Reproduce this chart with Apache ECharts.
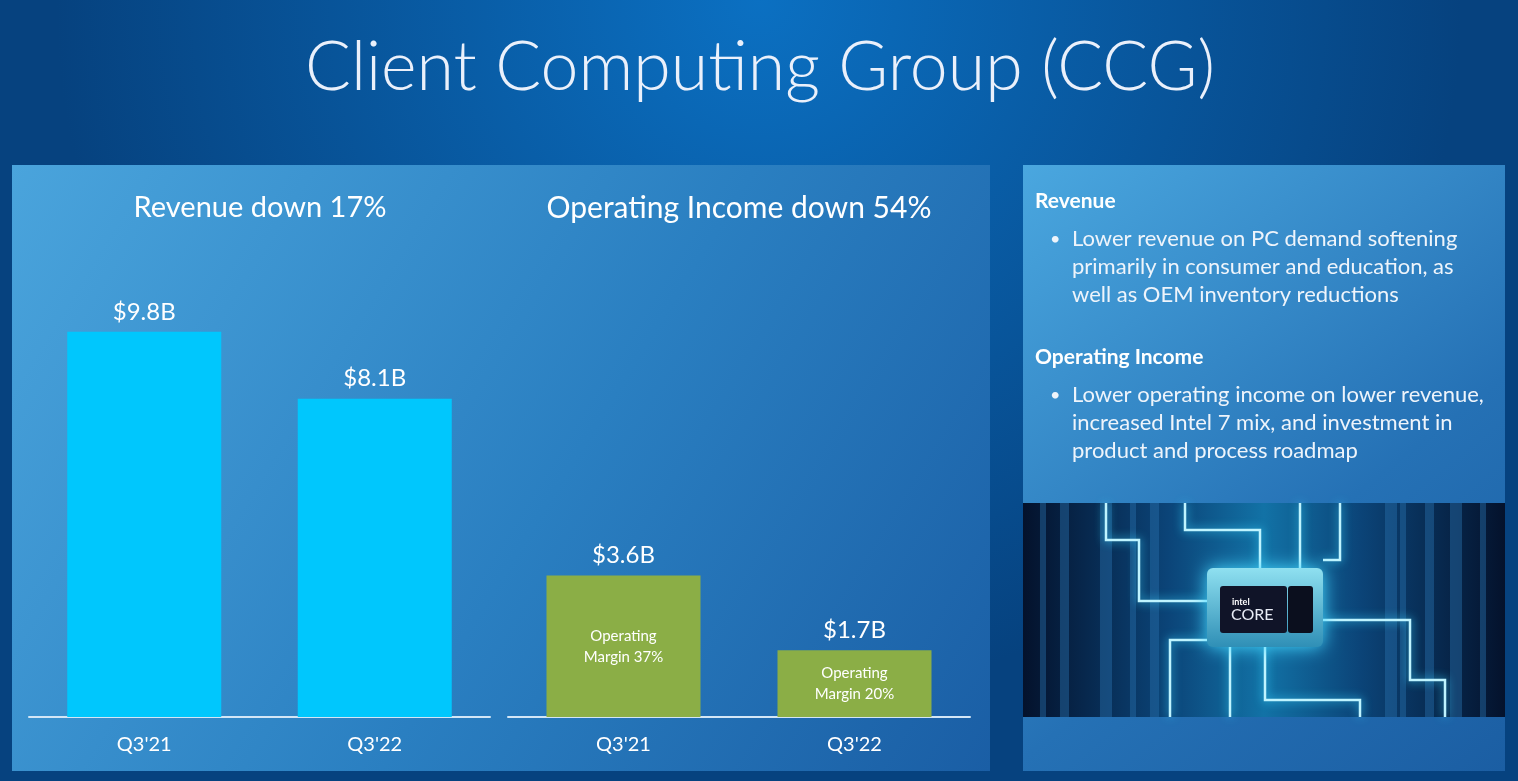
<!DOCTYPE html>
<html>
<head>
<meta charset="utf-8">
<title>Client Computing Group (CCG)</title>
<script src="https://cdn.jsdelivr.net/npm/echarts@6/dist/echarts.min.js"></script>
<style>
html,body{margin:0;padding:0;background:#0a5499;}
#main{width:1518px;height:781px;}
</style>
</head>
<body>
<div id="main"></div>
<script>
var quarters = ["Q3'21", "Q3'22"];
var revenue = [9.8, 8.1];
var opIncome = [3.6, 1.7];
var opMargin = [37, 20];

var revenueTitle = 'Revenue down 17%';
var incomeTitle = 'Operating Income down 54%';

var notes = [
    {head: 'Revenue', lines: ['Lower revenue on PC demand softening', 'primarily in consumer and education, as', 'well as OEM inventory reductions']},
    {head: 'Operating Income', lines: ['Lower operating income on lower revenue,', 'increased Intel 7 mix, and investment in', 'product and process roadmap']}
];

var FONT = 'Lato, "Open Sans", sans-serif';
var G = echarts.graphic;

function txt(text, x, y, size, opt) {
    opt = opt || {};
    return {
        type: 'text', z: 5, silent: true,
        style: {
            text: text, x: x, y: y,
            fill: opt.fill || '#ffffff',
            fontSize: size,
            fontFamily: FONT,
            fontWeight: opt.weight || 'normal',
            textAlign: opt.align || 'left',
            textVerticalAlign: 'middle'
        }
    };
}

// slide background + panels
var elements = [
    {type: 'rect', z: -10, silent: true, shape: {x: 0, y: 0, width: 1518, height: 781},
        style: {fill: new G.RadialGradient(0.5, 0.0, 0.9, [
            {offset: 0, color: '#0b70c2'}, {offset: 1, color: '#06427f'}])}},
    {type: 'rect', z: -9, silent: true, shape: {x: 12, y: 165, width: 978, height: 606},
        style: {fill: new G.LinearGradient(0, 0, 1, 1, [
            {offset: 0, color: '#4aa4dc'}, {offset: 0.55, color: '#2a7fc1'}, {offset: 1, color: '#1a5ea5'}])}},
    {type: 'rect', z: -9, silent: true, shape: {x: 1023, y: 165, width: 482, height: 606},
        style: {fill: new G.LinearGradient(0, 0, 1, 1, [
            {offset: 0, color: '#4aa7df'}, {offset: 0.6, color: '#2571b5'}, {offset: 1, color: '#1b5ea3'}])}},
    txt('Client Computing Group (CCG)', 760, 68, 68, {align: 'center', weight: 300, fill: '#eaf0fb'}),
    txt(revenueTitle, 260, 208, 29, {align: 'center'}),
    txt(incomeTitle, 739, 208, 30, {align: 'center'})
];

// right hand notes
var ny = [201, 357];
notes.forEach(function (n, i) {
    elements.push(txt(n.head, 1035, ny[i], 21, {weight: 'bold'}));
    n.lines.forEach(function (l, j) {
        var y = ny[i] + 38 + j * 28;
        if (j == 0) elements.push(txt('•', 1050, y, 18, {fill: '#eef4fb'}));
        elements.push(txt(l, 1072, y, 22, {fill: '#eef4fb'}));
    });
});

// chip picture (rough drawing)
var pic = [
    {type: 'rect', shape: {x: 1023, y: 503, width: 482, height: 214},
        style: {fill: new G.LinearGradient(0, 0, 1, 0, [
            {offset: 0, color: '#04122c'}, {offset: 0.3, color: '#0b4478'}, {offset: 0.5, color: '#1272a6'},
            {offset: 0.7, color: '#0b4478'}, {offset: 1, color: '#04122c'}])}}
];
[1040, 1060, 1100, 1130, 1150, 1385, 1400, 1425, 1450, 1480].forEach(function (x, i) {
    pic.push({type: 'rect', shape: {x: x, y: 503, width: 6 + (i % 3) * 3, height: 214}, style: {fill: 'rgba(40,110,170,0.45)'}});
});
var glow = [
    [[1106, 503], [1106, 540], [1139, 540], [1139, 601], [1207, 601]],
    [[1323, 620], [1410, 620], [1410, 680], [1445, 680], [1445, 717]],
    [[1170, 717], [1170, 640], [1207, 640]],
    [[1185, 503], [1185, 530], [1260, 530], [1260, 568]],
    [[1340, 503], [1340, 560], [1323, 560]],
    [[1265, 647], [1265, 700], [1360, 700], [1360, 717]],
    [[1300, 503], [1300, 568]],
    [[1230, 647], [1230, 717]]
];
glow.forEach(function (p) {
    pic.push({type: 'polyline', shape: {points: p},
        style: {stroke: '#bff4ff', lineWidth: 2.5, fill: null, shadowBlur: 10, shadowColor: '#36d6ff'}});
});
pic.push({type: 'rect', shape: {x: 1207, y: 568, width: 116, height: 79, r: 6},
    style: {fill: new G.LinearGradient(0, 0, 0, 1, [{offset: 0, color: '#8fe0f0'}, {offset: 1, color: '#2f8fb6'}]),
        shadowBlur: 18, shadowColor: '#45d8ff'}});
pic.push({type: 'rect', shape: {x: 1220, y: 586, width: 67, height: 47, r: 3}, style: {fill: '#101428'}});
pic.push({type: 'rect', shape: {x: 1288, y: 586, width: 25, height: 47, r: 3}, style: {fill: '#0b0f1e'}});
pic.push(txt('intel', 1232, 602, 9, {weight: 'bold'}));
pic.push(txt('CORE', 1231, 615, 16, {fill: '#e8ecf6'}));
elements.push({type: 'group', z: 1, silent: true, children: pic});

var barLabel = {
    show: true, position: 'top', distance: 8, color: '#ffffff', fontSize: 24, fontFamily: FONT,
    formatter: function (p) { return '$' + p.value + 'B'; }
};

var chart = echarts.init(document.getElementById('main'));
chart.setOption({
    animation: false,
    graphic: {elements: elements},
    grid: [
        {left: 29, top: 324, width: 461, height: 393},
        {left: 508, top: 324, width: 462, height: 393}
    ],
    xAxis: [0, 1].map(function (i) {
        return {
            type: 'category', gridIndex: i, data: quarters,
            axisLine: {lineStyle: {color: '#d3e6f6', width: 2}},
            axisTick: {show: false},
            axisLabel: {color: '#ffffff', fontSize: 20, fontFamily: FONT, margin: 18}
        };
    }),
    yAxis: [0, 1].map(function (i) {
        return {type: 'value', gridIndex: i, min: 0, max: 10, show: false, splitLine: {show: false}};
    }),
    series: [
        {name: 'Revenue', type: 'bar', xAxisIndex: 0, yAxisIndex: 0, data: revenue, barWidth: 154,
            itemStyle: {color: '#00c7fd'}, label: barLabel},
        {name: 'Operating Income', type: 'bar', xAxisIndex: 1, yAxisIndex: 1, data: opIncome, barWidth: 154,
            itemStyle: {color: '#8bae46'}, label: barLabel},
        {name: 'Operating Margin', type: 'bar', xAxisIndex: 1, yAxisIndex: 1, data: opIncome, barWidth: 154,
            barGap: '-100%', silent: true, itemStyle: {color: 'rgba(0,0,0,0)'},
            label: {show: true, position: 'inside', color: '#ffffff', fontSize: 15, lineHeight: 21, fontFamily: FONT,
                formatter: function (p) { return 'Operating\nMargin ' + opMargin[p.dataIndex] + '%'; }}}
    ]
});
</script>
</body>
</html>
